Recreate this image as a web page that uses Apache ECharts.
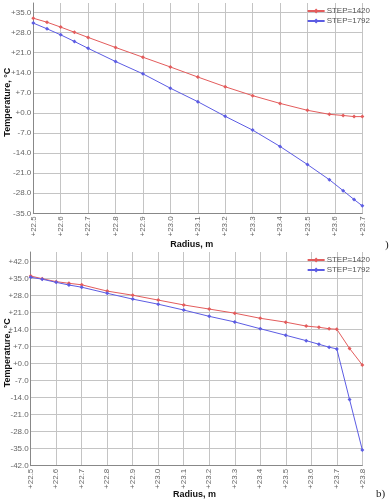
<!DOCTYPE html>
<html><head><meta charset="utf-8">
<script src="https://cdn.jsdelivr.net/npm/echarts@6/dist/echarts.min.js"></script>
<style>html,body{margin:0;padding:0;background:#fff}#c{width:389px;height:502px}</style>
</head><body>
<div id="c"></div>
<script>
// Chart a)
const radiusA = [22.5, 22.55, 22.6, 22.65, 22.7, 22.8, 22.9, 23.0, 23.1, 23.2, 23.3, 23.4, 23.5, 23.58, 23.63, 23.67, 23.7];
const step1420A = [33.0, 31.6, 29.9, 28.1, 26.3, 22.8, 19.4, 16.0, 12.5, 9.1, 6.0, 3.3, 0.9, -0.5, -0.9, -1.3, -1.3];
const step1792A = [31.3, 29.3, 27.2, 24.9, 22.5, 17.9, 13.6, 8.6, 3.9, -1.2, -6.0, -11.7, -18.0, -23.3, -27.1, -30.2, -32.4];
// Chart b)
const radiusB = [22.5, 22.545, 22.6, 22.65, 22.7, 22.8, 22.9, 23.0, 23.1, 23.2, 23.3, 23.4, 23.5, 23.58, 23.63, 23.67, 23.7, 23.75, 23.8];
const step1420B = [36.1, 35.0, 33.8, 33.1, 32.5, 29.9, 28.2, 26.2, 24.2, 22.5, 20.8, 18.7, 17.1, 15.5, 15.0, 14.4, 14.2, 6.3, -0.5];
const step1792B = [35.6, 34.8, 33.5, 32.4, 31.5, 29.0, 26.6, 24.5, 22.1, 19.5, 17.2, 14.4, 11.7, 9.5, 8.0, 6.8, 6.1, -14.7, -35.5];
const seriesNames = ['STEP=1420', 'STEP=1792'];
const colors = ['#e35c5c', '#5c5ce3'];

const FONT = 'Liberation Sans, Arial, sans-serif';
function yFmt(v){ if (Math.abs(v % 7) > 1e-6) return ''; return (v >= 0 ? '+' : '') + v.toFixed(1); }
function xFmt(v){ return '+' + v.toFixed(1); }
function zip(xs, ys){ return xs.map((x,i)=>[x, ys[i]]); }

const panels = [
  {left: 33.3, top: 3, width: 329, height: 210.3, xmax: 23.7, ymin: -35, ymax: 38.3,
   xNameGap: 27, yNameGap: 21, xNamePad: [0, 12, 0, 0], yNamePad: [0, 0, 0, 12],
   legendTop: 2, xs: radiusA, r: step1420A, b: step1792A, caption: ')', capX: 385, capY: 240},
  {left: 30.7, top: 252, width: 331.6, height: 213.7, xmax: 23.8, ymin: -42, ymax: 46,
   xNameGap: 24, yNameGap: 19, xNamePad: [0, 4, 0, 0], yNamePad: [0, 0, 0, 12],
   legendTop: 251, xs: radiusB, r: step1420B, b: step1792B, caption: 'b)', capX: 376, capY: 489}
];

const option = {
  animation: false,
  textStyle: {fontFamily: FONT},
  grid: panels.map(p => ({left: p.left, top: p.top, width: p.width, height: p.height, containLabel: false, outerBoundsMode: 'none'})),
  legend: panels.map(p => ({
    orient: 'vertical', right: 14, top: p.legendTop, itemGap: 2, itemWidth: 17, itemHeight: 6,
    textStyle: {fontSize: 8, color: '#555', fontFamily: FONT, padding: [0,0,0,-3]},
    data: seriesNames
  })),
  xAxis: panels.map((p, i) => ({
    type: 'value', gridIndex: i, min: 22.5, max: p.xmax, interval: 0.1,
    name: 'Radius, m', nameLocation: 'middle', nameGap: p.xNameGap, nameMoveOverlap: false,
    nameTextStyle: {fontWeight: 'bold', fontSize: 9, color: '#111', fontFamily: FONT, padding: p.xNamePad},
    axisLine: {onZero: false, lineStyle: {color: '#888'}},
    axisTick: {show: false},
    axisLabel: {rotate: 90, fontSize: 8, color: '#666', margin: 3, formatter: xFmt},
    splitLine: {show: true, lineStyle: {color: '#c4c4c4', width: 1}}
  })),
  yAxis: panels.map((p, i) => ({
    type: 'value', gridIndex: i, min: p.ymin, max: p.ymax, interval: 7,
    name: 'Temperature, °C', nameLocation: 'middle', nameGap: p.yNameGap, nameRotate: 90, nameMoveOverlap: false,
    nameTextStyle: {fontWeight: 'bold', fontSize: 9, color: '#111', fontFamily: FONT, padding: p.yNamePad},
    axisLine: {show: true, onZero: false, lineStyle: {color: '#888'}},
    axisTick: {show: false},
    axisLabel: {fontSize: 8, color: '#666', margin: 2, formatter: yFmt, showMaxLabel: false},
    splitLine: {show: true, showMaxLine: false, lineStyle: {color: '#c4c4c4', width: 1}}
  })),
  graphic: panels.map(p => ({type: 'text', left: p.capX, top: p.capY, style: {text: p.caption, font: '11px "Liberation Serif", serif', fill: '#222'}})),
  series: []
};
panels.forEach((p, i) => {
  option.series.push({name: seriesNames[0], type: 'line', xAxisIndex: i, yAxisIndex: i, data: zip(p.xs, p.r), color: colors[0], symbol: 'diamond', symbolSize: 4, lineStyle: {width: 1}});
  option.series.push({name: seriesNames[1], type: 'line', xAxisIndex: i, yAxisIndex: i, data: zip(p.xs, p.b), color: colors[1], symbol: 'diamond', symbolSize: 4, lineStyle: {width: 1}});
});

const chart = echarts.init(document.getElementById('c'), null, {renderer: 'canvas'});
chart.setOption(option);
</script>
</body></html>
